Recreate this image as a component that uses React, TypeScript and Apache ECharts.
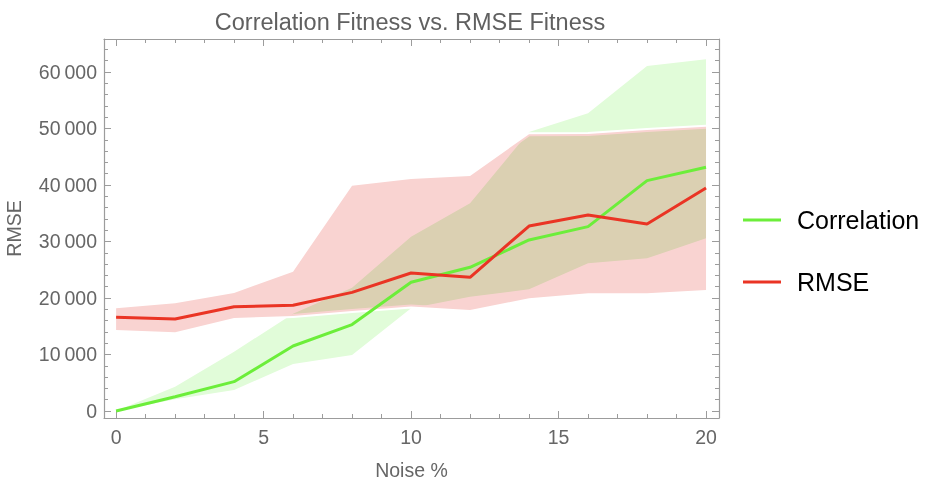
import React, { useEffect, useRef } from 'react';
import * as echarts from 'echarts';

// ---- data ----
const noise = [0, 2, 4, 6, 8, 10, 12, 14, 16, 18, 20];
const corrMean = [0, 2530, 5190, 11500, 15300, 22780, 25430, 30270, 32630, 40770, 43130];
const corrLow = [0, 2100, 3720, 8320, 9910, 18200, 20230, 21530, 26140, 27020, 30560];
const corrHigh = [0, 4300, 10500, 17200, 21800, 30850, 36760, 49400, 52690, 61060, 62240];
const rmseMean = [16580, 16280, 18460, 18700, 21000, 24420, 23660, 32740, 34690, 33100, 39470];
const rmseLow = [14340, 13920, 16450, 16820, 17700, 18500, 17880, 19950, 20830, 20830, 21420];
const rmseHigh = [18170, 19060, 20900, 24660, 39880, 41060, 41590, 49000, 49030, 49730, 50320];

const xMajor = [0, 5, 10, 15, 20];
const xMinor = [1, 2, 3, 4, 6, 7, 8, 9, 11, 12, 13, 14, 16, 17, 18, 19];
const yMajor = [0, 10000, 20000, 30000, 40000, 50000, 60000];
const yMinor = [2000, 4000, 6000, 8000, 12000, 14000, 16000, 18000, 22000, 24000, 26000, 28000,
  32000, 34000, 36000, 38000, 42000, 44000, 46000, 48000, 52000, 54000, 56000, 58000, 62000, 64000];

const X_MIN = -0.41;
const X_MAX = 20.44;
const Y_MIN = -1240;
const Y_MAX = 65840;

const GREEN = '#6cee3a';
const RED = '#ea3424';
const GREEN_FILL = '#e1fcd9';
const RED_FILL = '#f9d3d1';
const FRAME = '#9c9c9c';
const LABEL = '#666666';
const FONT = "'Liberation Sans', Arial, Helvetica, sans-serif";
const LABEL_SIZE = 19.5;

const fmt = (v: number) =>
  Math.round(v).toString().replace(/\B(?=(\d{3})+(?!\d))/g, '\u2009');

function bandSeries(name: string, low: number[], high: number[], fill: string) {
  return {
    type: 'custom',
    name,
    silent: true,
    data: [[0, 0]],
    renderItem: (_p: any, api: any) => {
      const pts: number[][] = [];
      noise.forEach((x, i) => pts.push(api.coord([x, high[i]])));
      for (let i = noise.length - 1; i >= 0; i--) pts.push(api.coord([noise[i], low[i]]));
      return { type: 'polygon', shape: { points: pts }, style: { fill } };
    },
  };
}

export default function App() {
  const ref = useRef<HTMLDivElement>(null);
  useEffect(() => {
    const el = ref.current!;
    const chart = echarts.init(el, undefined, { renderer: 'svg' });

    const axisLine = { show: true, onZero: false, lineStyle: { color: FRAME, width: 1.2 } };
    const noLine = { show: false, onZero: false };
    const majorTick = (vals: number[]) => ({
      show: true, customValues: vals, inside: true, length: 7, lineStyle: { color: FRAME, width: 1 },
    });
    const minorTick = (vals: number[]) => ({
      show: true, customValues: vals, inside: true, length: 4, lineStyle: { color: FRAME, width: 1 },
    });
    const xBase = { type: 'value', min: X_MIN, max: X_MAX, splitLine: { show: false }, axisLabel: { show: false } };
    const yBase = { type: 'value', min: Y_MIN, max: Y_MAX, splitLine: { show: false }, axisLabel: { show: false } };

    chart.setOption({
      animation: false,
      backgroundColor: '#ffffff',
      textStyle: { fontFamily: FONT },
      title: {
        text: 'Correlation Fitness vs. RMSE Fitness',
        left: 410,
        top: 10,
        padding: 0,
        textAlign: 'center',
        textStyle: { color: '#606060', fontSize: 23.5, fontWeight: 'normal', fontFamily: FONT },
      },
      legend: {
        data: ['Correlation', 'RMSE'],
        orient: 'vertical',
        left: 743,
        top: 205,
        padding: 0,
        itemGap: 32,
        itemWidth: 38,
        itemHeight: 3,
        icon: 'rect',
        selectedMode: false,
        textStyle: { color: '#000', fontSize: 25, lineHeight: 30, padding: [0, 0, 0, 11], fontFamily: FONT },
      },
      grid: { left: 104, top: 39, width: 615, height: 379, containLabel: false, outerBoundsMode: 'none' },
      xAxis: [
        {
          ...xBase, position: 'bottom', axisLine,
          name: 'Noise %', nameLocation: 'middle', nameGap: 42,
          nameTextStyle: { color: LABEL, fontSize: LABEL_SIZE, fontFamily: FONT },
          axisLabel: { show: true, customValues: xMajor, margin: 9, color: LABEL, fontSize: LABEL_SIZE, fontFamily: FONT },
          axisTick: majorTick(xMajor),
        },
        { ...xBase, position: 'bottom', axisLine: noLine, axisTick: minorTick(xMinor) },
        { ...xBase, position: 'top', axisLine, axisTick: majorTick(xMajor) },
        { ...xBase, position: 'top', axisLine: noLine, axisTick: minorTick(xMinor) },
      ],
      yAxis: [
        {
          ...yBase, position: 'left', axisLine,
          name: 'RMSE', nameLocation: 'middle', nameGap: 80,
          nameTextStyle: { color: LABEL, fontSize: LABEL_SIZE, fontFamily: FONT },
          axisLabel: { show: true, customValues: yMajor, formatter: fmt, margin: 7, color: LABEL, fontSize: LABEL_SIZE, fontFamily: FONT },
          axisTick: majorTick(yMajor),
        },
        { ...yBase, position: 'left', axisLine: noLine, axisTick: minorTick(yMinor) },
        { ...yBase, position: 'right', axisLine, axisTick: majorTick(yMajor) },
        { ...yBase, position: 'right', axisLine: noLine, axisTick: minorTick(yMinor) },
      ],
      series: [
        bandSeries('CorrelationBand', corrLow, corrHigh, GREEN_FILL),
        {
          type: 'custom',
          name: 'RMSEEdges',
          silent: true,
          data: [[0, 0]],
          renderItem: (_p: any, api: any) => ({
            type: 'group',
            children: [rmseLow, rmseHigh].map((arr) => ({
              type: 'polyline',
              shape: { points: noise.map((x, i) => api.coord([x, arr[i]])) },
              style: { stroke: '#ffffff', lineWidth: 4, fill: null },
            })),
          }),
        },
        {
          type: 'line',
          name: 'Correlation',
          data: noise.map((x, i) => [x, corrMean[i]]),
          showSymbol: false,
          silent: true,
          lineStyle: { color: GREEN, width: 3 },
          itemStyle: { color: GREEN },
        },
        bandSeries('RMSEBand', rmseLow, rmseHigh, RED_FILL),
        {
          type: 'line',
          name: 'RMSE',
          data: noise.map((x, i) => [x, rmseMean[i]]),
          showSymbol: false,
          silent: true,
          lineStyle: { color: RED, width: 3 },
          itemStyle: { color: RED },
        },
      ],
    });

    const applyBlend = () => {
      el.querySelectorAll('path').forEach((p) => {
        const f = (p.getAttribute('fill') || '').toLowerCase().replace(/\s/g, '');
        if (f === RED_FILL || f === 'rgb(249,211,209)') {
          (p as SVGElement).style.mixBlendMode = 'multiply';
        }
      });
    };
    applyBlend();
    chart.on('finished', applyBlend);

    return () => {
      chart.dispose();
    };
  }, []);

  return (
    <div
      ref={ref}
      style={{ position: 'absolute', left: 0, top: 0, width: 932, height: 494 }}
    />
  );
}
